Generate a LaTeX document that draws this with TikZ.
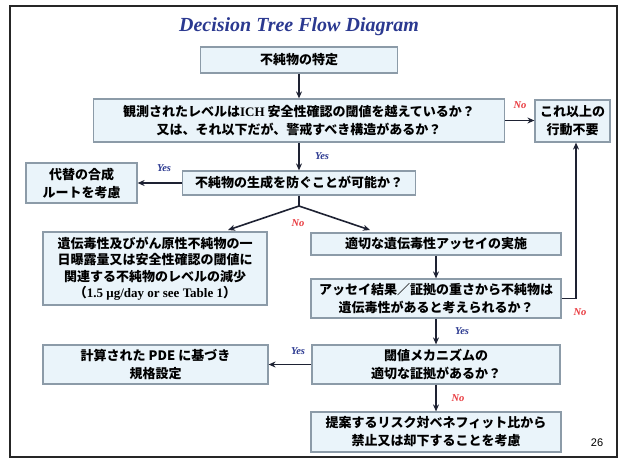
\documentclass[tikz,border=0pt]{standalone}
\usepackage{fontspec}
\setmainfont{Liberation Serif}
\newfontfamily\jpfont{Noto Sans CJK JP}
\newfontfamily\numfont{Liberation Sans}
\usetikzlibrary{arrows.meta}
\definecolor{boxfill}{HTML}{EAF4FA}
\definecolor{boxline}{HTML}{8C9BA8}
\definecolor{titleblue}{HTML}{2B3990}
\definecolor{nored}{HTML}{E8383D}
\definecolor{arrowcol}{HTML}{1E2233}

\begin{document}
\begin{tikzpicture}[x=1pt,y=-1pt,
    box/.style={draw=boxline, fill=boxfill, line width=1.2pt, align=center, inner sep=0pt,
        font=\jpfont\bfseries\fontsize{13}{18}\selectfont},
    flow/.style={draw=arrowcol, line width=1.6pt, -{Stealth[length=7pt,width=6pt]}},
    yes/.style={text=titleblue, font=\bfseries\itshape\fontsize{10.5}{12}\selectfont},
    no/.style={text=nored, font=\bfseries\itshape\fontsize{10.5}{12}\selectfont}]

        \useasboundingbox (0,0) rectangle (621,461);
        \draw [line width=2.5pt, draw=black!85] (10,6) rectangle (617,457);

        \node [text=titleblue, font=\bfseries\itshape\fontsize{20}{24}\selectfont] (title) at (299,27) {Decision Tree Flow Diagram};

        % boxes
        \node [box, minimum width=197pt, minimum height=26pt] (spec) at (299,60) {不純物の特定};
        \node [box, minimum width=411pt, minimum height=43pt] (level) at (299,120.5) {観測されたレベルは{\rmfamily ICH} 安全性確認の閾値を越えているか？\\又は、それ以下だが、警戒すべき構造があるか？};
        \node [box, minimum width=75pt, minimum height=42pt] (noaction) at (572.5,121) {これ以上の\\行動不要};
        \node [box, minimum width=233pt, minimum height=24pt] (prevent) at (299,183) {不純物の生成を防ぐことが可能か？};
        \node [box, minimum width=111pt, minimum height=40pt] (route) at (81.5,183) {代替の合成\\ルートを考慮};
        \node [box, minimum width=224pt, minimum height=73pt,
            font=\jpfont\bfseries\fontsize{13}{16.5}\selectfont] (reduce) at (155,268.5) {遺伝毒性及びがん原性不純物の一\\日曝露量又は安全性確認の閾値に\\関連する不純物のレベルの減少\\（{\rmfamily 1.5 μg/day or see Table 1}）};
        \node [box, minimum width=250pt, minimum height=22pt] (assay) at (436,244) {適切な遺伝毒性アッセイの実施};
        \node [box, minimum width=250pt, minimum height=39pt] (weight) at (436,298.5) {アッセイ結果／証拠の重さから不純物は\\遺伝毒性があると考えられるか？};
        \node [box, minimum width=248pt, minimum height=39pt] (mech) at (436,364.5) {閾値メカニズムの\\適切な証拠があるか？};
        \node [box, minimum width=225pt, minimum height=39pt] (pde) at (155.5,364.5) {計算された PDE に基づき\\規格設定};
        \node [box, minimum width=250pt, minimum height=40pt] (ban) at (436,432) {提案するリスク対ベネフィット比から\\禁止又は却下することを考慮};

        % connectors
        \coordinate (fork) at (299,206);
        \coordinate (lefttip) at (228,230);
        \coordinate (righttip) at (370,230);
        \coordinate (retcorner) at (576,298.5);

        \draw [flow] (spec) -- (level);
        \draw [flow] (level.east) -- (level.east -| noaction.west);
        \draw [flow] (level) -- (prevent);
        \draw [flow] (prevent) -- (route);
        \draw [draw=arrowcol, line width=1.6pt] (prevent.south) -- (fork);
        \draw [flow] (fork) -- (lefttip);
        \draw [flow] (fork) -- (righttip);
        \draw [flow] (assay) -- (weight);
        \draw [flow] (weight.east) -- (retcorner) -- (retcorner |- noaction.south);
        \draw [flow] (weight) -- (mech);
        \draw [flow] (mech) -- (pde);
        \draw [flow] (mech) -- (ban);

        % labels
        \node [no] (no1) at (520,105) {No};
        \node [yes] (yes1) at (322,156) {Yes};
        \node [yes] (yes2) at (164,168) {Yes};
        \node [no] (no2) at (298,223) {No};
        \node [no] (no3) at (580,312) {No};
        \node [yes] (yes3) at (462,331) {Yes};
        \node [yes] (yes4) at (298,351) {Yes};
        \node [no] (no4) at (458,398) {No};

        \node [font=\numfont\fontsize{11}{13}\selectfont] (pagenum) at (597,443) {26};

\end{tikzpicture}
\end{document}
